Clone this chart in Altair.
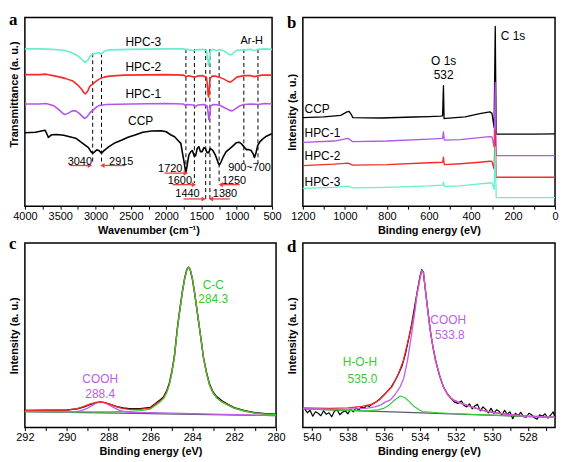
import altair as alt
import pandas as pd

FONT = "Liberation Sans"
BLACK = "#000000"
PURPLE = "#b455e8"
RED = "#f52a2a"
CYAN = "#66efcc"
GREEN = "#33cc33"
PURPLE2 = "#c25ce6"
BASEC = "#5a5a6e"
ARROW = "#f04040"

# ---------------- panel a : FTIR ----------------
a_hpc3_wn = [4000,3800,3600,3450,3350,3250,3180,3143,3110,3080,3040,3000,2960,2915,2880,2800,2500,2000,1750,1720,1700,1610,1580,1480,1430,1410,1400,1390,1375,1340,1290,1250,1200,1150,1100,1070,1040,1000,900,800,750,700,600,500]
a_hpc3_t = [158.5,158.5,158,157,155,151.5,147,145,147,151,153,154,154.5,153,156,157.5,158,158.5,158.5,157.5,158,156.5,157.5,158,157,148,141.5,145,156,158,156.5,157.5,157,155,152.5,152.5,155,157,157.5,158,156.5,158,158.5,158]

a_hpc2_wn = [4000,3800,3700,3600,3500,3420,3320,3250,3200,3160,3140,3110,3080,3040,3000,2950,2880,2800,2600,2000,1750,1720,1680,1600,1560,1480,1430,1415,1405,1398,1390,1380,1350,1300,1250,1180,1120,1090,1050,1000,900,800,750,650,500]
a_hpc2_t = [132.5,132.5,133,131.5,130,128.5,126,122,118,114,113.3,116,121,123,125.5,128,130,131,132,132.5,132,130.5,131.5,130,131,131.5,130,122,112,110,115,128,131,131,130,128,125.5,125,127,130,131.5,131.5,130.5,132,132]

a_hpc1_wn = [4000,3800,3700,3600,3530,3470,3435,3390,3330,3280,3230,3180,3157,3120,3090,3065,3000,2950,2850,2500,2000,1760,1730,1700,1620,1590,1550,1470,1420,1405,1395,1385,1370,1330,1250,1180,1100,1065,1020,960,900,800,700,600,500]
a_hpc1_t = [103,103,103.5,101.5,98,94,92.3,93.5,96,96,93.5,90,88.3,90,93,95,99,101.5,102.5,103,103.5,103,101.5,102.5,102,100.2,102,102.5,101,94,87,90,101,102.5,102,99.5,96.5,96,98,101,102.5,103,102.5,103.5,103]

a_ccp_wn = [4000,3850,3750,3713,3690,3667,3620,3550,3450,3366,3280,3181,3100,3065,3040,3010,2982,2950,2915,2880,2810,2720,2625,2540,2440,2330,2208,2069,2000,1931,1880,1838,1792,1768,1740,1722,1705,1690,1676,1650,1629,1600,1583,1560,1537,1515,1490,1465,1444,1420,1398,1375,1351,1330,1306,1280,1260,1246,1220,1190,1150,1097,1050,1005,970,935,900,865,830,796,770,750,730,704,670,635,580,505]
a_ccp_t = [74,74.5,76,76.5,73,69.3,72,72.3,71.5,70,68.5,63.3,59,55,53.3,55,56.7,56,53.3,56,60,64,66.7,69.5,71.7,74.5,75.7,76,75,71.7,70,66.7,63.3,53.3,42,33.3,40,47,52,55,56,50,51,58,60,55,55,59,58,54,54,58,57,55,52,47,43,41.7,45,50,55,58,61,64,64.5,63,60,57,57,56,53,49,53,61,65,67.5,70.5,73]

a_dash_wn = [3040, 2915, 1720, 1600, 1440, 1380, 1250, 900, 700]
a_dash_top = [154, 154, 158.3, 158.3, 158.3, 158.3, 155, 158.3, 158.3]
a_dash_bot = [42, 42, 35, 23.3, 7, 7, 22, 43.3, 43.3]

a_peak_txt = ["3040", "2915", "1720", "1600", "1440", "1380", "1250", "900~700", "Ar-H"]
a_peak_x = [3222, 2636, 1942, 1806, 1698, 1167, 1039, 819, 788]
a_peak_y = [45, 45, 37, 25.5, 12.5, 12.5, 25.5, 38.5, 166.7]

a_arrow_from = [3366, 2578, 2024, 1910, 1754, 1097, 958]
a_arrow_to = [3079, 2903, 1722, 1607, 1468, 1366, 1227]
a_arrow_y = [41, 41, 33.3, 21.7, 7.3, 7.3, 21.7]

a_lab_txt = ["HPC-3", "HPC-2", "HPC-1", "CCP"]
a_lab_x = [2324, 2324, 2324, 2361]
a_lab_y = [165.7, 140, 113, 86]

# ---------------- panel b : XPS survey ----------------
b_ccp_e = [1200,1100,1020,990,980,970,962,900,828,750,672,600,546,535,531,528,520,428,358,310,300,290,284.5,280,200,100,0]
b_ccp_i = [89.7,90.5,92,95.5,96,93,89.7,89.5,89.3,89.8,90.3,90.8,91.3,91.5,122,88.7,89,90.5,93.7,95.5,94,79.7,182,73,73,73,73.3]
b_hpc_e = [1200,1050,985,962,800,600,535,531,527,450,360,310,300,290,284.5,280,0]
b_hpc1_i = [64.7,66,68.7,65.3,66,68,68.7,75.3,67,67.5,69.5,70.5,70.3,59.7,125.3,51.3,51.3]
b_hpc2_i = [41,42.5,43.7,41.5,42,44,44.5,49.7,42,43,44.5,45.5,45.3,37.7,77,29.3,29.3]
b_hpc3_i = [18,19,20.3,18.5,19,20.5,21.3,24.3,20,20.5,22.5,23.5,23.7,17,60,8.7,8.7]

b_lab_txt = ["CCP", "HPC-1", "HPC-2", "HPC-3"]
b_lab_e = [1192, 1192, 1192, 1192]
b_lab_i = [98.7, 74.3, 50.3, 24.7]
b_o_txt = ["O 1s", "532"]
b_o_e = [530, 530]
b_o_i = [147, 132.5]
b_c_txt = ["C 1s"]
b_c_e = [258]
b_c_i = [172]

# ---------------- panel c : C 1s ----------------
c_env_e = [292,291,290,289.5,289.2,288.9,288.6,288.4,288.2,287.9,287.6,287.3,287,286.5,286,285.76,285.55,285.37,285.22,285.1,284.98,284.86,284.78,284.69,284.58,284.47,284.36,284.26,284.18,284.1,284.0,283.9,283.79,283.68,283.57,283.47,283.33,283.19,283.02,282.84,282.6,282.36,282,281.5,281,280.5,280]
c_env_i = [17,17.2,17.5,19,21,23.5,25.3,25.7,25.2,23.2,20.8,19,18.3,18.3,19.5,23.3,26.5,30,36,43.3,55,70,86,103.3,120,136.7,150,158,160.7,158.5,150,136.7,120,103.3,86,70,55,43.3,35,30,26,23.3,19.5,16.5,14.5,13.5,13]
c_raw_i = [17.3,17.4,17.6,18.8,20.5,23,25,25.5,25,23,21,19.6,19,19,20.3,24,27.5,31,37,44.5,56,71,87,104,121,137,150.5,158.5,160.7,158,149,136,119.5,103,86.5,70.5,56,44.5,36,31,27,24,20,17,15,14,13.3]
c_cc_e = [292,290,289,288,287,286.5,286,285.76,285.55,285.37,285.22,285.1,284.98,284.86,284.78,284.69,284.58,284.47,284.36,284.26,284.18,284.1,284.0,283.9,283.79,283.68,283.57,283.47,283.33,283.19,283.02,282.84,282.6,282.36,282,281.5,281,280.5,280]
c_cc_i = [16,15.8,15.7,15.8,16.3,17,18.5,22,25.5,29,35,42.5,54.5,69.5,85.5,103,119.5,136.5,149.5,157.5,160.5,158.3,150,136.7,120,103.3,86,70,55,43.3,35,30,26,23.3,19.5,16.5,14.5,13.5,13]
c_cooh_e = [292,290,289.6,289.3,289,288.8,288.6,288.4,288.2,288,287.8,287.5,287.2,287,286,284,282,280]
c_cooh_i = [16,15.4,15.8,17,19.5,22,24.5,25.7,25,23,20.5,17.5,15.8,15.3,15,14,13,12]
c_base_e = [292, 280]
c_base_i = [16, 12]
c_txt = ["C-C", "284.3", "COOH", "288.4"]
c_txt_e = [283.0, 283.0, 288.4, 288.4]
c_txt_i = [142.5, 128.5, 48.5, 34]

# ---------------- panel d : O 1s ----------------
d_base_e = [540.5, 526.5]
d_base_i = [19, 10.3]
d_hoh_e = [540.5,538,537,536.35,536,535.7,535.4,535.1,534.85,534.6,534.3,534,533.85,533,532,530,528,526.5]
d_hoh_i = [19,17.5,17,18,19.5,23,28,32,30.5,26.5,21,17.5,16.3,15,14,12.7,11.3,10.3]
d_cooh_e = [540.5,539,538,537,536.5,536.17,535.9,535.64,535.4,535.1,534.9,534.69,534.5,534.3,534.17,534.0,533.9,533.8,533.67,533.45,533.3,533.14,532.9,532.7,532.45,532.16,531.7,531.18,530.5,530,529,528,526.5]
d_cooh_i = [19.5,18.5,18.7,19.5,21,23,26,28,33,41.3,50,68,90,115,134,150,159,157,134.7,101.3,84,68,52,41.3,33,28,24.5,21.3,17.5,15.5,13,11.5,10.5]
d_env_e = [540.5,539,538,537.2,536.6,536.26,535.9,535.55,535.19,534.92,534.7,534.48,534.3,534.17,534.0,533.9,533.8,533.67,533.45,533.3,533.14,532.9,532.7,532.45,532.16,531.7,531.18,530.5,530,529,528,526.5]
d_env_i = [20,19.5,20,21.5,24,28,34.7,41.3,54.7,68,85,101.3,118,134.7,152,159,157,134.7,101.3,84,68,52,41.3,33,28,24.5,21.3,17.5,15.5,13,11.5,10.5]
d_raw_e = [540.4,540.25,540.1,539.95,539.8,539.65,539.5,539.35,539.2,539.05,
           538.9,538.75,538.6,538.45,538.3,538.15,538.0,537.85,537.7,537.55,
           537.4,537.25,537.1,536.95,536.8,536.6,536.4,536.2,536.0,535.8,
           535.6,535.4,535.2,535.0,534.8,534.6,534.45,534.3,534.15,534.0,
           533.9,533.82,533.7,533.55,533.4,533.25,533.1,532.9,532.7,532.5,
           532.3,532.1,531.9,531.7,531.55,531.4,531.25,531.1,530.95,530.8,
           530.65,530.5,530.35,530.2,530.05,529.9,529.75,529.6,529.45,529.3,
           529.15,529.0,528.85,528.7,528.55,528.4,528.25,528.1,527.95,527.8,
           527.65,527.5,527.35,527.2,527.05,526.9,526.75,526.6,526.5]
d_raw_i = [19,15,17.5,11.5,16,14.5,12,17,13.5,15,
           11,16.5,18,13,15.5,17,14,18.5,16,20,
           17.5,21,19.5,22.5,21.5,24.5,26.5,29.5,33,37,
           41,47,54,62,75,92,106,122,138,153,
           160,158,140,117,95,79,66,52,41.5,35,
           30,26,24.5,27,22.5,21,24,19,22,23.5,
           17,21,18.5,15,19.5,14.5,18,16.5,12.5,17.5,
           13.5,16,9,14.5,12,15.5,11,10.5,14.5,13,
           10,8.5,13,11.5,14,9.5,12.5,16,10]
d_txt = ["COOH", "533.8", "H-O-H", "535.0"]
d_txt_e = [532.43, 532.34, 537.33, 537.19]
d_txt_i = [108.5, 94, 66, 49.5]


def df(x, y):
    return pd.DataFrame({"x": x, "y": y, "i": list(range(len(x)))})


def line(x, y, color, sw, X, Y):
    return alt.Chart(df(x, y)).mark_line(color=color, strokeWidth=sw, strokeJoin="round").encode(
        x=X, y=Y, order="i:Q")


def texts(xs, ys, ts, colors, X, Y, size=12, align="center"):
    d = pd.DataFrame({"x": xs, "y": ys, "t": ts, "c": colors})
    return alt.Chart(d).mark_text(font=FONT, fontSize=size, align=align, baseline="middle").encode(
        x=X, y=Y, text="t:N", color=alt.Color("c:N", scale=None))


def letter(ch, yoff):
    return alt.Chart(pd.DataFrame({"t": [ch]})).mark_text(
        font="Liberation Serif", fontWeight="bold", fontSize=17, align="left",
        baseline="alphabetic", color="black").encode(
        x=alt.value(-16), y=alt.value(yoff), text="t:N")


def xaxis(title, vals, every):
    return alt.Axis(values=vals, labelExpr=f"datum.value % {every} === 0 ? datum.label : ''",
                    format="d", title=title, tickSize=3, tickColor="black", tickWidth=1,
                    labelPadding=1, titlePadding=3, domain=False, grid=False,
                    labelFlush=False, labelOverlap=False)


def yaxis(title, **kw):
    return alt.Axis(title=title, labels=False, ticks=False, domain=False, grid=False,
                    titlePadding=5, **kw)


# ---- panel a
Xa = alt.X("x:Q", scale=alt.Scale(domain=[500, 4000], reverse=True, nice=False, zero=False),
           axis=xaxis("Wavenumber (cm⁻¹)", list(range(500, 4001, 250)), 500))
Ya = alt.Y("y:Q", scale=alt.Scale(domain=[0, 190], nice=False, zero=False),
           axis=yaxis("Transmittance (a. u.)", titleY=77))

dash_a = alt.Chart(pd.DataFrame({"x": a_dash_wn, "y": a_dash_top, "y2": a_dash_bot})).mark_rule(
    color="black", strokeWidth=1, strokeDash=[4, 3]).encode(x=Xa, y=Ya, y2="y2:Q")
arr_df = pd.DataFrame({"x": a_arrow_from, "x2": a_arrow_to, "y": a_arrow_y})
arr_shaft = alt.Chart(arr_df).mark_rule(color=ARROW, strokeWidth=1.3).encode(x=Xa, x2="x2:Q", y=Ya)
head_df = pd.DataFrame({"x": a_arrow_to, "y": a_arrow_y,
                        "s": ["triangle-right" if t < f else "triangle-left"
                              for f, t in zip(a_arrow_from, a_arrow_to)]})
arr_head = alt.Chart(head_df).mark_point(filled=True, size=26, opacity=1, color=ARROW,
                                         strokeWidth=0).encode(
    x=Xa, y=Ya, shape=alt.Shape("s:N", scale=None))

panel_a = alt.layer(
    dash_a,
    line(a_ccp_wn, a_ccp_t, BLACK, 1.6, Xa, Ya),
    line(a_hpc1_wn, a_hpc1_t, PURPLE, 1.6, Xa, Ya),
    line(a_hpc2_wn, a_hpc2_t, RED, 1.6, Xa, Ya),
    line(a_hpc3_wn, a_hpc3_t, CYAN, 1.6, Xa, Ya),
    arr_shaft, arr_head,
    texts(a_peak_x, a_peak_y, a_peak_txt, ["black"] * len(a_peak_txt), Xa, Ya, size=11),
    texts(a_lab_x, a_lab_y, a_lab_txt, ["black"] * 4, Xa, Ya, size=12),
    letter("a", 7),
).properties(width=249, height=190)

# ---- panel b
Xb = alt.X("x:Q", scale=alt.Scale(domain=[0, 1200], reverse=True, nice=False, zero=False),
           axis=xaxis("Binding energy (eV)", list(range(0, 1201, 100)), 200))
Yb = alt.Y("y:Q", scale=alt.Scale(domain=[0, 191], nice=False, zero=False),
           axis=yaxis("Intensity (a. u.)"))
panel_b = alt.layer(
    line(b_ccp_e, b_ccp_i, BLACK, 1.3, Xb, Yb),
    line(b_hpc_e, b_hpc1_i, PURPLE, 1.3, Xb, Yb),
    line(b_hpc_e, b_hpc2_i, RED, 1.3, Xb, Yb),
    line(b_hpc_e, b_hpc3_i, CYAN, 1.3, Xb, Yb),
    texts(b_lab_e, b_lab_i, b_lab_txt, ["black"] * 4, Xb, Yb, size=12, align="left"),
    texts(b_o_e, b_o_i, b_o_txt, ["black"] * 2, Xb, Yb, size=12),
    texts(b_c_e, b_c_i, b_c_txt, ["black"], Xb, Yb, size=12, align="left"),
    letter("b", 11),
).properties(width=254, height=190)

# ---- panel c
Xc = alt.X("x:Q", scale=alt.Scale(domain=[280, 292], reverse=True, nice=False, zero=False),
           axis=xaxis("Binding energy (eV)", list(range(280, 293)), 2))
Yc = alt.Y("y:Q", scale=alt.Scale(domain=[0, 185], nice=False, zero=False),
           axis=yaxis("Intensity (a. u.)"))
panel_c = alt.layer(
    line(c_base_e, c_base_i, BASEC, 1.2, Xc, Yc),
    line(c_env_e, c_raw_i, BLACK, 1.4, Xc, Yc),
    line(c_cooh_e, c_cooh_i, PURPLE2, 1.3, Xc, Yc),
    line(c_env_e, c_env_i, RED, 1.3, Xc, Yc),
    line(c_cc_e, c_cc_i, GREEN, 1.2, Xc, Yc),
    texts(c_txt_e, c_txt_i, c_txt, [GREEN, GREEN, PURPLE2, PURPLE2], Xc, Yc, size=12),
    letter("c", 6),
).properties(width=253, height=186)

# ---- panel d
Xd = alt.X("x:Q", scale=alt.Scale(domain=[526.5, 540.5], reverse=True, nice=False, zero=False),
           axis=xaxis("Binding energy (eV)", list(range(527, 541)), 2))
Yd = alt.Y("y:Q", scale=alt.Scale(domain=[0, 187], nice=False, zero=False),
           axis=yaxis("Intensity (a. u.)"))
panel_d = alt.layer(
    line(d_base_e, d_base_i, BASEC, 1.2, Xd, Yd),
    line(d_raw_e, d_raw_i, BLACK, 1.2, Xd, Yd),
    line(d_env_e, d_env_i, RED, 1.3, Xd, Yd),
    line(d_hoh_e, d_hoh_i, GREEN, 1.2, Xd, Yd),
    line(d_cooh_e, d_cooh_i, PURPLE2, 1.3, Xd, Yd),
    texts(d_txt_e, d_txt_i, d_txt, [PURPLE2, PURPLE2, GREEN, GREEN], Xd, Yd, size=12),
    letter("d", 9),
).properties(width=254, height=186)

chart = alt.concat(panel_a, panel_b, panel_c, panel_d, columns=2,
                   spacing={"row": 37, "column": 27}, bounds="flush").properties(
    padding={"left": 0, "top": 0, "right": 0, "bottom": 0}
).configure(font=FONT).configure_axis(
    labelFont=FONT, titleFont=FONT, labelFontSize=11, titleFontSize=11,
    labelColor="black", titleColor="black", titleFontWeight="bold"
).configure_view(stroke="black", strokeWidth=1.5)

chart.save("out.html", embed_options={"renderer": "svg", "actions": False})
